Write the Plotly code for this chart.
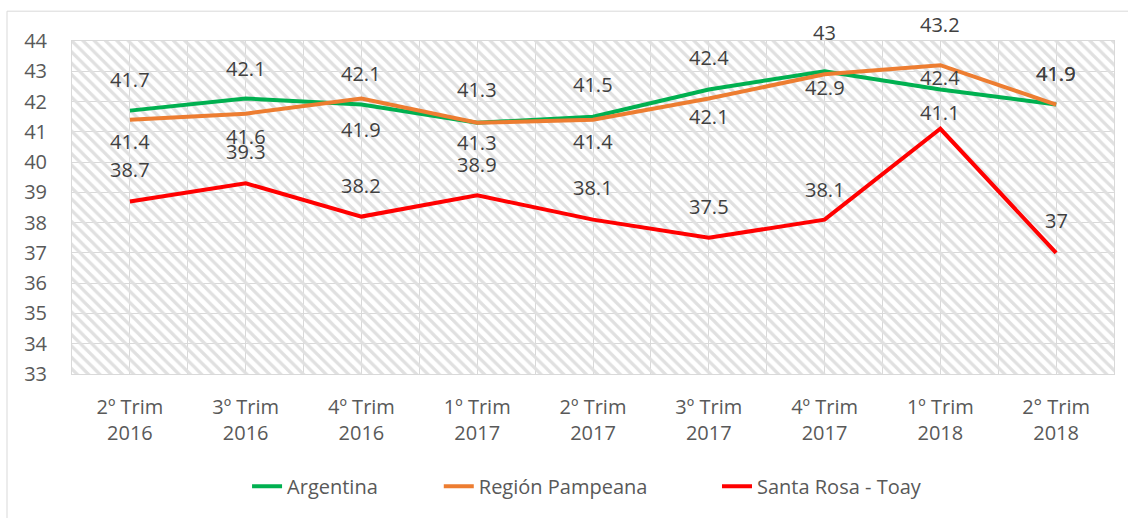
import plotly.graph_objects as go

categories = ["2º Trim<br>2016", "3º Trim<br>2016", "4º Trim<br>2016", "1º Trim<br>2017",
              "2º Trim<br>2017", "3º Trim<br>2017", "4º Trim<br>2017", "1º Trim<br>2018",
              "2° Trim<br>2018"]
argentina = [41.7, 42.1, 41.9, 41.3, 41.5, 42.4, 43, 42.4, 41.9]
pampeana = [41.4, 41.6, 42.1, 41.3, 41.4, 42.1, 42.9, 43.2, 41.9]
santa_rosa = [38.7, 39.3, 38.2, 38.9, 38.1, 37.5, 38.1, 41.1, 37]
y_ticks = list(range(33, 45))

# data-label vertical offsets in px (positive = above the point)
off_arg = [31, 30, -25, 33, 32, 32, 39, 12, 31]
off_pam = [-22, -23, 25, -20, -22, -18, -13, 41, 31]
off_sr = [32, 32, 31, 31, 32, 31, 30, 16, 32]

FONT = "Open Sans"
TXT = "#595959"
GRID = "#d9d9d9"

xs = list(range(len(categories)))
x_lo, x_hi = -0.5, len(categories) - 0.5
y_lo, y_hi = y_ticks[0], y_ticks[-1]

fig = go.Figure()

# hatched plot background
fig.add_trace(go.Scatter(
    x=[x_lo, x_hi, x_hi, x_lo, x_lo], y=[y_lo, y_lo, y_hi, y_hi, y_lo],
    fill="toself", mode="none", showlegend=False, hoverinfo="skip",
    fillpattern=dict(shape="\\", size=8, solidity=0.4, fgcolor="#e0e0e0", fillmode="replace"),
))

series = [
    ("Argentina", argentina, "#00B050", off_arg, "legend", 0.168),
    ("Región Pampeana", pampeana, "#ED7D31", off_pam, "legend2", 0.352),
    ("Santa Rosa - Toay", santa_rosa, "#FF0000", off_sr, "legend3", 0.619),
]
for name, vals, col, offs, lg, lx in series:
    fig.add_trace(go.Scatter(
        x=xs, y=vals, mode="lines", name=name, legend=lg,
        line=dict(color=col, width=4, shape="linear"),
    ))

annotations = []
for name, vals, col, offs, lg, lx in series:
    for i, (v, o) in enumerate(zip(vals, offs)):
        annotations.append(dict(
            x=xs[i], y=v, xref="x", yref="y", text=f"{v:g}", showarrow=False,
            yshift=o, yanchor="middle",
            font=dict(family=FONT, size=20, color="#404040"),
        ))

legend_common = dict(orientation="h", xanchor="left", y=-0.337, yanchor="middle",
                     font=dict(family=FONT, size=20, color=TXT), itemwidth=30,
                     bgcolor="rgba(0,0,0,0)")
legends = {}
for name, vals, col, offs, lg, lx in series:
    legends[lg] = dict(legend_common, x=lx)

fig.update_layout(
    width=1128, height=518,
    margin=dict(l=72, r=14, t=41, b=142),
    paper_bgcolor="white", plot_bgcolor="white",
    font=dict(family=FONT, size=20, color=TXT),
    annotations=annotations,
    showlegend=True,
    shapes=[dict(type="rect", xref="paper", yref="paper",
                 x0=(7 - 72) / 1042, x1=1.2, y0=-1.0, y1=(376 - 11) / 335,
                 line=dict(color=GRID, width=1), fillcolor="rgba(0,0,0,0)", layer="below")],
    **legends,
)

fig.update_xaxes(
    range=[x_lo, x_hi], tickmode="array", tickvals=xs, ticktext=categories,
    showgrid=True, gridcolor=GRID, gridwidth=1,
    minor=dict(tick0=x_lo, dtick=1, showgrid=True, gridcolor=GRID, gridwidth=1),
    showline=True, linecolor=GRID, mirror=True, zeroline=False,
    ticks="", ticklabelstandoff=15,
    tickfont=dict(family=FONT, size=20, color=TXT),
)
fig.update_yaxes(
    range=[y_lo, y_hi], tickmode="array", tickvals=y_ticks,
    showgrid=True, gridcolor=GRID, gridwidth=1,
    showline=True, linecolor=GRID, mirror=True, zeroline=False,
    ticks="", ticklabelstandoff=20,
    tickfont=dict(family=FONT, size=20, color=TXT),
)

fig.write_html("out.html", config={"displayModeBar": False},
               post_script="document.body.style.margin='0';")
